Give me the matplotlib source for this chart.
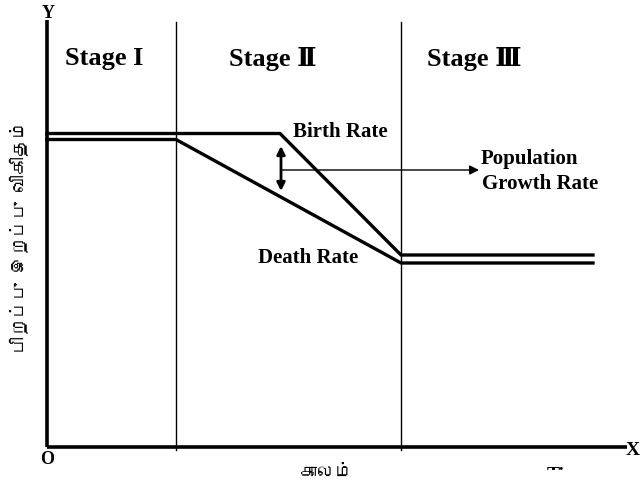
import matplotlib
matplotlib.use("Agg")
import matplotlib.pyplot as plt
from matplotlib import font_manager
from matplotlib.ft2font import FT2Font
from matplotlib.patches import Rectangle

# ---- data (x: time units, y: rate units; origin at axes corner) ----
stage_labels = ["Stage I", "Stage \u2161", "Stage \u2162"]
stage_label_x = [18, 182, 380]
stage_bounds = [129, 354]
birth_x = [0, 233, 354, 546]
birth_y = [313.5, 313.5, 192, 192]
death_x = [0, 129, 354, 546]
death_y = [307.5, 307.5, 184, 184]
growth_arrow_x = 234
growth_arrow_y = [301, 256]
pointer_y = 277
pointer_x_end = 432

ylabel_text = "பிறப்பு இறப்பு விகிதம்"
xlabel_text = "காலம்"

# find a font that has Tamil glyphs
tamil_font = None
for f in font_manager.fontManager.ttflist:
    try:
        cm = FT2Font(f.fname).get_charmap()
        if ord("க") in cm and ord("ப") in cm:
            tamil_font = f.name
            break
    except Exception:
        pass
tamil_family = [tamil_font, "DejaVu Sans"] if tamil_font else ["DejaVu Sans"]

serif = ["Liberation Serif", "DejaVu Serif"]

fig = plt.figure(figsize=(6.42, 4.85), dpi=100)
ax = fig.add_axes([0, 0, 1, 1])
ax.set_xlim(-47, 595)
ax.set_ylim(-37, 448)
ax.axis("off")

# axes lines
ax.plot([0, 0], [0, 427], color="black", lw=2.6, solid_capstyle="butt")
ax.plot([0, 580], [0, 0], color="black", lw=2.6, solid_capstyle="butt")

# stage dividers
for b in stage_bounds:
    ax.plot([b, b], [-3, 425], color="black", lw=1.0)

# birth & death rate
ax.plot(birth_x, birth_y, color="black", lw=2.4)
ax.plot(death_x, death_y, color="black", lw=2.4)

# growth arrows
ax.annotate("", xy=(growth_arrow_x, growth_arrow_y[0]), xytext=(growth_arrow_x, growth_arrow_y[1]),
            arrowprops=dict(arrowstyle="<|-|>", color="black", lw=2.0,
                            mutation_scale=12, shrinkA=0, shrinkB=0))
ax.annotate("", xy=(pointer_x_end, pointer_y), xytext=(growth_arrow_x, pointer_y),
            arrowprops=dict(arrowstyle="-|>", color="black", lw=1.0,
                            mutation_scale=14, shrinkA=0, shrinkB=0))

# texts
for lbl, x in zip(stage_labels, stage_label_x):
    ax.text(x, 389, lbl, family=serif, fontweight="bold", fontsize=19,
            ha="left", va="center")
ax.text(246, 316, "Birth Rate", family=serif, fontweight="bold", fontsize=15,
        ha="left", va="center")
ax.text(211, 190, "Death Rate", family=serif, fontweight="bold", fontsize=15,
        ha="left", va="center")
ax.text(434, 289, "Population", family=serif, fontweight="bold",
        fontsize=15, ha="left", va="center")
ax.text(435.5, 264, "Growth Rate", family=serif, fontweight="bold",
        fontsize=15, ha="left", va="center")

ax.text(1, 434, "Y", family=serif, fontweight="bold", fontsize=13, ha="center", va="center")
ax.text(0, -12, "O", family=serif, fontweight="bold", fontsize=13, ha="center", va="center")
ax.text(586, -3, "X", family=serif, fontweight="bold", fontsize=14, ha="center", va="center")

# "Time" label: only its top edge is visible in the reference (cropped)
clip = Rectangle((480, -22.5), 120, 30, transform=ax.transData)
t = ax.text(500, -19.5, "Time", family=serif, fontweight="bold", fontsize=14,
            ha="left", va="top", clip_on=True)
t.set_clip_path(clip)

ax.text(-28, 211, ylabel_text, family=tamil_family, fontsize=13, rotation=90,
        ha="center", va="center")
ax.text(280, -25, xlabel_text, family=tamil_family, fontsize=13,
        ha="center", va="center")

fig.savefig("out.png", dpi=100)
